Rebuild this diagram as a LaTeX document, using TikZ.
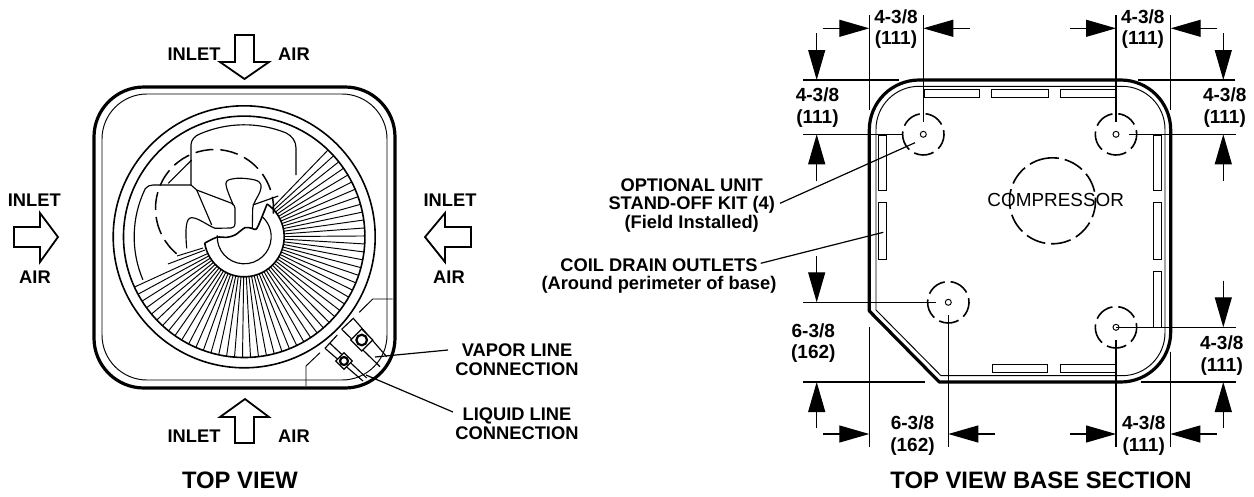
\documentclass[tikz,border=0pt]{standalone}
\usepackage{fontspec}
\setmainfont{Liberation Sans}
\usetikzlibrary{arrows.meta}

\begin{document}
\begin{tikzpicture}[x=1pt,y=1pt,
        heavy/.style={line width=3.2pt,line join=round},
        thin line/.style={line width=.95pt},
        ring/.style={line width=1.6pt},
        blade/.style={line width=1.15pt},
        airarrow/.style={line width=1.8pt,line join=miter},
        lead/.style={line width=1.2pt},
        ext/.style={line width=1.15pt},
        dim/.style={line width=1.15pt,-{Triangle[length=30pt,width=17pt]}},
        slot/.style={line width=.95pt},
        hidden/.style={line width=1.6pt,dash pattern=on 20pt off 6pt},
        label/.style={inner sep=0pt,align=center,font=\bfseries\fontsize{18.3}{18.7}\selectfont},
        dimlabel/.style={inner sep=0pt,align=center,font=\bfseries\fontsize{19}{21.6}\selectfont},
        title/.style={inner sep=0pt,font=\bfseries\fontsize{23.8}{26}\selectfont}]
        \useasboundingbox (0,0) rectangle (1254,-496);

        \coordinate (fan) at (244.2,-236.8);
        \coordinate (hubdash) at (214.5,-208.5);

        \draw[heavy] (94,-137) arc (180:90:50pt) -- (345,-87) arc (90:0:50pt) -- (395,-338) arc (0:-90:50pt) -- (144,-388) arc (-90:-180:50pt) -- cycle;
        \draw[thin line] (102,-139) arc (180:90:45pt) -- (342,-94) arc (90:0:45pt) -- (387,-335) arc (0:-90:45pt) -- (147,-380) arc (-90:-180:45pt) -- cycle;

        \draw[ring] (fan) circle (131pt);
        \draw[ring] (fan) circle (120.7pt);
        \foreach \a in {204.6,208.4,...,408}
          \draw[thin line] (fan) ++(\a:40pt) -- ++(\a:80.7pt);
        \draw[thin line] (168,-264) -- (205,-250);
        \draw[thin line] (177,-256) -- (203,-248);

        \draw[ring] (fan) ++(189:40pt) arc (189:415:40pt);
        \draw[blade] (fan) ++(177:27pt) arc (177:407:27pt);
        \draw[ring] plot[smooth,tension=.5] coordinates {(204.7,-243.1) (216.7,-237.3) (226.7,-237.3) (235,-235) (245,-227.7) (251.7,-228.3) (256,-229.3) (260,-221.7) (267.1,-204)};

        \draw[blade] (191,-185) -- (191,-145) .. controls (191,-140) and (195,-135.5) .. (200.4,-133.7) arc (113:68:112pt) .. controls (292,-136) and (296,-141) .. (296,-148) -- (296,-175);
        \draw[blade] (191,-185) -- (153,-185) .. controls (150,-185) and (147.5,-186) .. (145.3,-188.6) arc (154:203:110pt);
        \draw[blade] (191,-185) -- (196.7,-190) -- (231.7,-203.3) .. controls (234,-205) and (235,-206) .. (235,-208.3) -- (235,-223.3) .. controls (235,-227) and (233,-227.7) .. (231,-228) -- (215,-228.3) .. controls (207,-225) and (198,-217.7) .. (191.7,-217.7) .. controls (186,-217.7) and (185,-228) .. (186.7,-248.3);
        \draw[blade] (196.7,-190) -- (211.7,-225);
        \draw[blade] (252.3,-228.3) -- (252.7,-208.3) .. controls (253,-203) and (258,-197) .. (260,-191.7) .. controls (262,-186) and (262,-182) .. (255,-180) .. controls (249,-178.5) and (242,-178) .. (236.7,-178.3) .. controls (230,-179) and (226,-180) .. (226,-183.3) .. controls (225.5,-187) and (230,-197) .. (233.3,-205);
        \draw[blade] (252.7,-205) -- (278.3,-196);
        \draw[blade] (168.3,-183.3) -- (191.7,-160);
        \draw[line width=1.5pt,dash pattern=on 18pt off 7pt] (hubdash) ++(230:59pt) arc (230:-5:59pt);

        \draw[thin line] (392.7,-299) -- (372.7,-299) -- (359.3,-312.3);
        \draw[thin line] (320,-352.7) -- (306,-366) -- (306,-386);
        \draw[blade] (341.7,-329.3) -- (353.3,-318.3) -- (386.7,-356.7);
        \draw[blade] (341.7,-329.3) -- (380,-366.7);
        \draw[blade] (325,-348.3) -- (337.3,-335);
        \draw[blade] (330,-343.3) -- (366.7,-378);
        \draw[blade] (325,-348.3) -- (363,-381);
        \node[draw,line width=1.2pt,rotate=45,minimum size=15.5pt,inner sep=0pt,fill=white] (vaporbox) at (361.7,-340) {};
        \draw[line width=2.2pt] (vaporbox.center) circle (5.3pt);
        \node[draw,line width=1.2pt,rotate=45,minimum size=11.7pt,inner sep=0pt,fill=white] (liquidbox) at (344,-361) {};
        \draw[line width=2.2pt] (liquidbox.center) circle (4pt);

        \draw[airarrow] (235,-35) -- (254,-35) -- (254,-62) -- (269,-62) -- (244.5,-79) -- (220,-62) -- (235,-62) -- cycle;
        \draw[airarrow] (14,-227) -- (40,-227) -- (40,-213) -- (58,-237) -- (40,-262) -- (40,-247) -- (14,-247) -- cycle;
        \draw[airarrow] (471,-227) -- (445,-227) -- (445,-213) -- (425,-237) -- (445,-262) -- (445,-247) -- (471,-247) -- cycle;
        \draw[airarrow] (235,-443) -- (254,-443) -- (254,-417) -- (269,-417) -- (245,-399) -- (220,-417) -- (235,-417) -- cycle;

        \node[label] (topinlet) at (194,-54) {INLET};
        \node[label] (topair) at (294,-54) {AIR};
        \node[label] (leftinlet) at (34.3,-200) {INLET};
        \node[label] (leftair) at (35,-277) {AIR};
        \node[label] (rightinlet) at (450,-200) {INLET};
        \node[label] (rightair) at (449,-277) {AIR};
        \node[label] (bottominlet) at (194,-436) {INLET};
        \node[label] (bottomair) at (294,-436) {AIR};

        \node[label] (vapor) at (517,-360) {VAPOR LINE\\CONNECTION};
        \node[label] (liquid) at (517,-424) {LIQUID LINE\\CONNECTION};
        \coordinate (vaporstart) at (448,-350);
        \coordinate (vaporend) at (375,-357);
        \coordinate (liquidstart) at (453,-412);
        \coordinate (liquidend) at (366,-375);
        \draw[lead] (vaporstart) -- (vaporend);
        \draw[lead] (liquidstart) -- (liquidend);
        \node[title] (topview) at (240,-480) {TOP VIEW};

        \draw[heavy] (869.3,-130) arc (180:90:50pt) -- (1120.7,-80) arc (90:0:50pt) -- (1170.7,-332) arc (0:-90:50pt) -- (939.3,-382) -- (869.3,-311) -- cycle;
        \draw[thin line] (876,-129.3) arc (180:90:43pt) -- (1122,-86.3) arc (90:0:43pt) -- (1165,-332.7) arc (0:-90:43pt) -- (941,-375.7) -- (876,-310) -- cycle;

        \foreach \xa/\xb in {924/979.3,991.7/1048.3,1060.7/1116}
          \draw[slot] (\xa,-89.3) rectangle (\xb,-97.3);
        \foreach \xa/\xb in {992/1047.7,1060.7/1116}
          \draw[slot] (\xa,-364.3) rectangle (\xb,-372.7);
        \foreach \ya/\yb in {135/190,202.3/259.3}
          \draw[slot] (878.7,-\ya) rectangle (886.7,-\yb);
        \foreach \ya/\yb in {135/190,202.3/259.3,271.7/327.3}
          \draw[slot] (1153.3,-\ya) rectangle (1161.7,-\yb);

        \foreach \x/\y in {923.3/134.3,1116/134.3,948.3/302.3,1116/327.3} {
          \draw[hidden] (\x,-\y) ++(100:20.7pt) arc (100:460:20.7pt);
          \draw[thin line] (\x,-\y) circle (3pt);
        }
        \draw[hidden] (1052.5,-200.8) ++(95:43pt) arc (95:455:43pt);
        \node[inner sep=0pt,font=\fontsize{18.9}{20}\selectfont] (compressor) at (1055.7,-200) {COMPRESSOR};

        \draw[ext] (869.3,-15) -- (869.3,-110);
        \draw[ext] (923.3,-15) -- (923.3,-121.7);
        \draw[ext] (1116,-15) -- (1116,-121.7);
        \draw[ext] (1170.7,-15) -- (1170.7,-110);
        \draw[ext] (803.3,-80) -- (899.3,-80);
        \draw[ext] (803.3,-134.3) -- (902.7,-134.3);
        \draw[ext] (1138.3,-80) -- (1235,-80);
        \draw[ext] (1129.3,-134.3) -- (1236,-134.3);
        \draw[ext] (803.3,-302.3) -- (936,-302.3);
        \draw[ext] (803.3,-382) -- (925,-382);
        \draw[ext] (869.3,-326.7) -- (869.3,-447.3);
        \draw[ext] (948.3,-315) -- (948.3,-447.3);
        \draw[ext] (1116,-340) -- (1116,-447.3);
        \draw[ext] (1170.3,-351.7) -- (1170.3,-447.3);
        \draw[ext] (1116,-327.3) -- (1236,-327.3);
        \draw[ext] (1140.7,-382) -- (1236,-382);

        \draw[dim] (822.7,-28.3) -- (869.3,-28.3);
        \draw[dim] (970,-28.3) -- (923.3,-28.3);
        \draw[dim] (1070,-28.3) -- (1116,-28.3);
        \draw[dim] (1217.3,-28.3) -- (1170.7,-28.3);
        \draw[dim] (816.7,-33.3) -- (816.7,-80);
        \draw[dim] (816.7,-181) -- (816.7,-134.3);
        \draw[dim] (1223.3,-33.3) -- (1223.3,-80);
        \draw[dim] (1223.3,-181) -- (1223.3,-134.3);
        \draw[dim] (816.7,-256) -- (816.7,-302.3);
        \draw[dim] (816.7,-428.3) -- (816.7,-382);
        \draw[dim] (822.7,-434) -- (869.3,-434);
        \draw[dim] (995,-434) -- (948.3,-434);
        \draw[dim] (1070,-434) -- (1116,-434);
        \draw[dim] (1216.7,-434) -- (1170.3,-434);
        \draw[dim] (1223.3,-280.7) -- (1223.3,-327.3);
        \draw[dim] (1223.3,-428.3) -- (1223.3,-382);

        \node[dimlabel] (dimtopleft) at (896,-29) {4-3/8\\(111)};
        \node[dimlabel] (dimtopright) at (1142.8,-29) {4-3/8\\(111)};
        \node[dimlabel] (dimleftupper) at (817.5,-107.5) {4-3/8\\(111)};
        \node[dimlabel] (dimrightupper) at (1224.7,-107.5) {4-3/8\\(111)};
        \node[dimlabel] (dimleftlower) at (813.3,-343) {6-3/8\\(162)};
        \node[dimlabel] (dimbottomleft) at (912.5,-435.5) {6-3/8\\(162)};
        \node[dimlabel] (dimbottomright) at (1143.7,-435.5) {4-3/8\\(111)};
        \node[dimlabel] (dimrightlower) at (1221.7,-355.5) {4-3/8\\(111)};

        \node[label] (standoff) at (691.7,-205.5) {OPTIONAL UNIT\\STAND-OFF KIT (4)\\(Field Installed)};
        \node[label] (drain) at (659,-276) {COIL DRAIN OUTLETS\\(Around perimeter of base)};
        \coordinate (standoffstart) at (780,-203.3);
        \coordinate (standoffend) at (915,-142.7);
        \coordinate (drainstart) at (760.7,-263.3);
        \coordinate (drainend) at (883.3,-232.3);
        \draw[lead] (standoffstart) -- (standoffend);
        \draw[lead] (drainstart) -- (drainend);
        \node[title] (baseview) at (1041,-480) {TOP VIEW BASE SECTION};
      \end{tikzpicture}
\end{document}
